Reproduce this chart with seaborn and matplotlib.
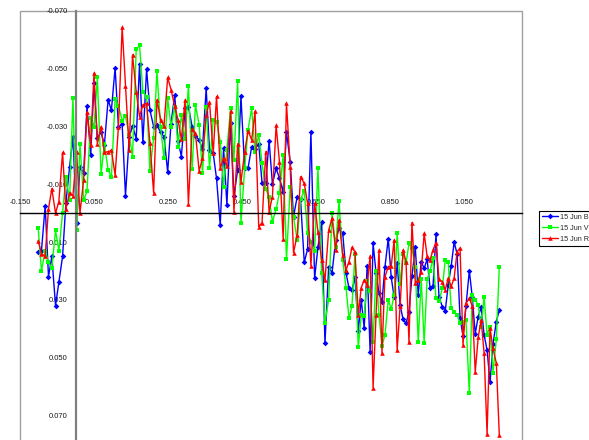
import matplotlib
matplotlib.use("Agg")
import matplotlib.pyplot as plt
from matplotlib.patches import Rectangle
import seaborn as sns

# Orbital phase of each observation
phase = [
    -0.101, -0.092, -0.082, -0.073, -0.064, -0.054, -0.045, -0.035, -0.026, -0.016,
    -0.007, 0.003, 0.012, 0.022, 0.031, 0.041, 0.050, 0.059, 0.069, 0.078,
    0.088, 0.097, 0.107, 0.116, 0.126, 0.135, 0.145, 0.154, 0.164, 0.173,
    0.182, 0.192, 0.201, 0.211, 0.220, 0.230, 0.239, 0.249, 0.258, 0.268,
    0.277, 0.286, 0.296, 0.305, 0.315, 0.324, 0.334, 0.343, 0.353, 0.362,
    0.372, 0.381, 0.391, 0.400, 0.409, 0.419, 0.428, 0.438, 0.447, 0.457,
    0.466, 0.476, 0.485, 0.495, 0.504, 0.514, 0.523, 0.532, 0.542, 0.551,
    0.561, 0.570, 0.580, 0.589, 0.599, 0.608, 0.618, 0.627, 0.636, 0.646,
    0.655, 0.665, 0.674, 0.684, 0.693, 0.703, 0.712, 0.722, 0.731, 0.739,
    0.747, 0.755, 0.764, 0.772, 0.780, 0.788, 0.796, 0.804, 0.812, 0.820,
    0.828, 0.836, 0.845, 0.853, 0.861, 0.869, 0.877, 0.885, 0.893, 0.901,
    0.909, 0.918, 0.926, 0.934, 0.942, 0.950, 0.958, 0.966, 0.974, 0.982,
    0.991, 0.999, 1.007, 1.015, 1.023, 1.031, 1.039, 1.047, 1.055, 1.064,
    1.072, 1.080, 1.088, 1.096, 1.104, 1.112, 1.120, 1.128, 1.137, 1.145,
]

# Differential magnitudes, 15 June, B filter
mag_b = [
    0.0135, 0.0130, -0.0025, 0.0220, 0.0150, 0.0320, 0.0240, 0.0150, -0.0035, -0.0160,
    -0.0265, 0.0035, -0.0160, -0.0140, -0.0370, -0.0200, -0.0450, -0.0260, -0.0280, -0.0236,
    -0.0392, -0.0357, -0.0504, -0.0298, -0.0308, -0.0060, -0.0263, -0.0302, -0.0258, -0.0518,
    -0.0245, -0.0498, -0.0357, -0.0300, -0.0304, -0.0280, -0.0265, -0.0143, -0.0310, -0.0409,
    -0.0251, -0.0196, -0.0363, -0.0369, -0.0300, -0.0267, -0.0254, -0.0221, -0.0432, -0.0219,
    -0.0207, -0.0120, 0.0041, -0.0225, -0.0029, -0.0311, -0.0060, -0.0148, -0.0404, -0.0155,
    -0.0155, -0.0230, -0.0221, -0.0240, -0.0104, -0.0104, -0.0251, -0.0101, -0.0155, -0.0121,
    -0.0074, -0.0281, -0.0178, 0.0012, -0.0057, -0.0048, 0.0170, 0.0125, -0.0281, 0.0226,
    0.0118, 0.0029, 0.0450, 0.0185, 0.0208, 0.0093, 0.0053, 0.0070, 0.0208, 0.0260,
    0.0266, 0.0222, 0.0407, 0.0300, 0.0399, 0.0183, 0.0480, 0.0105, 0.0206, 0.0278,
    0.0307, 0.0187, 0.0088, 0.0222, 0.0292, 0.0172, 0.0318, 0.0368, 0.0382, 0.0341,
    0.0218, 0.0119, 0.0283, 0.0168, 0.0191, 0.0160, 0.0260, 0.0252, 0.0073, 0.0289,
    0.0324, 0.0338, 0.0249, 0.0183, 0.0101, 0.0141, 0.0364, 0.0425, 0.0322, 0.0199,
    0.0291, 0.0418, 0.0358, 0.0326, 0.0422, 0.0474, 0.0586, 0.0453, 0.0376, 0.0335,
]

# Differential magnitudes, 15 June, V filter
mag_v = [
    0.0050, 0.0200, 0.0130, 0.0170, 0.0190, 0.0060, 0.0130, 0.0000, -0.0125, -0.0045,
    -0.0400, 0.0060, -0.0240, -0.0045, -0.0075, -0.0330, -0.0300, -0.0470, -0.0135, -0.0240,
    -0.0150, -0.0126, -0.0396, -0.0371, -0.0320, -0.0336, -0.0270, -0.0196, -0.0568, -0.0581,
    -0.0420, -0.0403, -0.0147, -0.0259, -0.0491, -0.0298, -0.0190, -0.0398, -0.0300, -0.0369,
    -0.0230, -0.0340, -0.0255, -0.0441, -0.0152, -0.0375, -0.0306, -0.0138, -0.0369, -0.0155,
    -0.0323, -0.0317, -0.0248, -0.0092, -0.0219, -0.0363, -0.0184, -0.0456, 0.0033, -0.0155,
    -0.0288, -0.0363, -0.0213, -0.0271, -0.0173, -0.0083, -0.0057, 0.0030, -0.0013, -0.0071,
    -0.0201, 0.0160, -0.0089, 0.0015, 0.0093, -0.0048, -0.0078, 0.0070, 0.0099, 0.0130,
    -0.0155, 0.0206, 0.0380, 0.0300, 0.0001, 0.0116, -0.0043, 0.0162, 0.0260, 0.0364,
    0.0321, 0.0141, 0.0465, 0.0352, 0.0356, 0.0234, 0.0268, 0.0448, 0.0199, 0.0354,
    0.0460, 0.0422, 0.0300, 0.0333, 0.0283, 0.0070, 0.0245, 0.0141, 0.0174, 0.0105,
    0.0122, 0.0187, 0.0448, 0.0227, 0.0450, 0.0229, 0.0199, 0.0157, 0.0295, 0.0306,
    0.0260, 0.0162, 0.0168, 0.0329, 0.0341, 0.0353, 0.0381, 0.0376, 0.0370, 0.0624,
    0.0283, 0.0300, 0.0318, 0.0393, 0.0289, 0.0422, 0.0393, 0.0552, 0.0437, 0.0187,
]

# Differential magnitudes, 15 June, R filter
mag_r = [
    0.0095, 0.0140, 0.0150, -0.0015, -0.0085, 0.0000, -0.0040, -0.0210, -0.0015, -0.0070,
    -0.0060, -0.0210, 0.0000, -0.0115, -0.0350, -0.0235, -0.0485, -0.0240, -0.0300, -0.0210,
    -0.0213, -0.0217, -0.0132, -0.0300, -0.0644, -0.0441, -0.0220, -0.0548, -0.0420, -0.0334,
    -0.0375, -0.0380, -0.0244, -0.0071, -0.0392, -0.0323, -0.0302, -0.0470, -0.0428, -0.0370,
    -0.0323, -0.0255, -0.0392, -0.0032, -0.0293, -0.0277, -0.0146, -0.0190, -0.0340, -0.0386,
    -0.0207, -0.0404, -0.0155, -0.0190, -0.0163, -0.0352, -0.0005, -0.0240, -0.0109, -0.0210,
    -0.0286, -0.0254, -0.0352, 0.0047, 0.0033, -0.0213, -0.0005, -0.0057, -0.0304, -0.0178,
    0.0088, -0.0380, -0.0161, 0.0137, 0.0076, -0.0126, -0.0103, -0.0034, 0.0182, -0.0034,
    0.0064, 0.0162, 0.0233, 0.0059, 0.0018, 0.0127, 0.0024, 0.0145, 0.0197, 0.0168,
    0.0119, 0.0134, 0.0352, 0.0258, 0.0231, 0.0249, 0.0148, 0.0604, 0.0352, 0.0128,
    0.0485, 0.0220, 0.0187, 0.0183, 0.0093, 0.0474, 0.0323, 0.0128, 0.0168, 0.0448,
    0.0033, 0.0243, 0.0231, 0.0203, 0.0070, 0.0150, 0.0162, 0.0127, 0.0102, 0.0229,
    0.0237, 0.0266, 0.0225, 0.0254, 0.0225, 0.0133, 0.0121, 0.0456, 0.0312, 0.0295,
    0.0322, 0.0551, 0.0430, 0.0370, 0.0485, 0.0765, 0.0399, 0.0468, 0.0520, 0.0768,
]

series_names = ["15 Jun B", "15 Jun V", "15 Jun R"]
series_colors = ["#0000ff", "#00ff00", "#ff0000"]
series_markers = ["D", "s", "^"]

x_ticks = [-0.15, 0.05, 0.25, 0.45, 0.65, 0.85, 1.05]
x_tick_labels = ["-0.150", "0.050", "0.250", "0.450", "0.650", "0.850", "1.050"]
y_ticks = [-0.07, -0.05, -0.03, -0.01, 0.01, 0.03, 0.05, 0.07]
y_tick_labels = ["-0.070", "-0.050", "-0.030", "-0.010", "0.010", "0.030", "0.050", "0.070"]

sns.set_style("white")
plt.rcParams["font.family"] = ["Liberation Sans", "DejaVu Sans"]

W, H = 589, 440
fig = plt.figure(figsize=(W / 100, H / 100), dpi=100)
ax = fig.add_axes([20 / W, (H - 445) / H, 501.5 / W, 434 / H])

for name, vals, col, mk in zip(series_names, [mag_b, mag_v, mag_r], series_colors, series_markers):
    sns.lineplot(x=phase, y=vals, ax=ax, color=col, label=name, estimator=None, sort=False,
                 linewidth=1.0, marker=mk, markersize=2.9 if mk != "^" else 3.3,
                 markeredgewidth=0, markerfacecolor=col)

ax.set_xlim(-0.15, 1.205)
ax.set_ylim(0.0803, -0.0700)

# Axes crossing at zero
for side in ["top", "right"]:
    ax.spines[side].set_visible(False)
ax.spines["left"].set_position(("data", 0))
ax.spines["left"].set_color("#808080")
ax.spines["left"].set_linewidth(1.6)
ax.spines["bottom"].set_position(("data", 0))
ax.spines["bottom"].set_color("black")
ax.spines["bottom"].set_linewidth(1.0)

# Plot-area border
ax.add_patch(Rectangle((0, 0), 1, 1, transform=ax.transAxes, fill=False,
                       edgecolor="#a0a0a0", linewidth=1.0, clip_on=False, zorder=0.5))

ax.set_xticks(x_ticks)
ax.set_xticklabels(x_tick_labels)
ax.set_yticks(y_ticks)
ax.set_yticklabels(y_tick_labels)
ax.tick_params(axis="x", direction="in", length=2.5, width=0.8, color="black",
               pad=-10, labelsize=5.5, labelcolor="#1a1a1a")
ax.tick_params(axis="y", direction="out", length=2.5, width=0.8, color="black",
               pad=3, labelsize=5.5, labelcolor="#1a1a1a")
ax.set_xlabel("")
ax.set_ylabel("")
ax.grid(False)

leg = ax.legend(loc="upper left", bbox_to_anchor=(539 / W, 1 - 210.5 / H),
                bbox_transform=fig.transFigure, borderaxespad=0, fontsize=5.2,
                frameon=True, fancybox=False, edgecolor="black", framealpha=1,
                handlelength=2.2, handletextpad=0.3, labelspacing=0.55, borderpad=0.45)
leg.get_frame().set_linewidth(0.8)

fig.savefig("out.png", dpi=100)
